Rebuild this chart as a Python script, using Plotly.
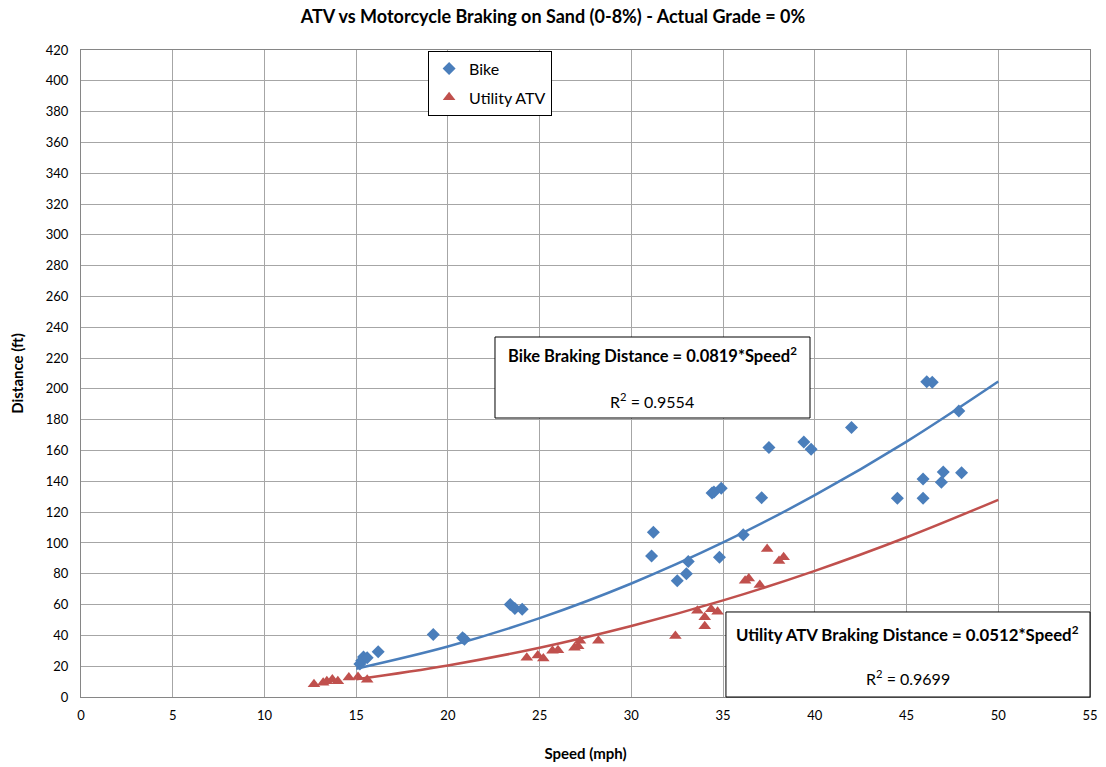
import plotly.graph_objects as go

# Bike (motorcycle) braking data: speed (mph), distance (ft)
bike_speed = [15.2, 15.3, 15.4, 15.6, 16.2, 19.2, 20.8, 20.9, 23.4, 23.65, 24.05,
              31.1, 31.2, 32.5, 33.0, 33.1, 34.4, 34.5, 34.8, 34.9, 36.1,
              37.1, 37.5, 39.4, 39.8, 42.0, 44.5, 45.9, 45.9, 46.1, 46.4,
              46.9, 47.0, 47.85, 48.0]
bike_dist = [21.5, 23.6, 26, 25.5, 29.4, 40.5, 38.5, 37.5, 60, 57.5, 57,
             91.5, 107, 75.5, 80, 88, 132.5, 133, 90.7, 135.5, 105.4,
             129.4, 162, 165.6, 160.8, 175, 129, 129, 141.5, 204.7, 204.3,
             139.4, 146, 185.7, 145.6]

# Utility ATV braking data
atv_speed = [12.7, 13.2, 13.4, 13.7, 14.0, 14.6, 15.1, 15.6,
             24.3, 24.9, 25.2, 25.7, 26.0, 26.9, 27.1, 27.2, 28.2,
             32.4, 33.6, 34.0, 34.0, 34.35, 34.7, 36.2, 36.4, 37.0, 37.4, 38.05, 38.3]
atv_dist = [8.2, 9.2, 10.3, 11.3, 10.2, 12.6, 13, 11.2,
            25.5, 27, 25, 30, 30.3, 32, 33, 36.5, 36.5,
            39.6, 56, 51.7, 46, 57, 55.4, 75.5, 77, 72.7, 96, 88.3, 90.7]

# Power trendlines as drawn
trend_speed = [15, 20, 25, 30, 35, 40, 45, 50]
bike_trend = [18.4, 32.8, 51.2, 73.7, 100.3, 131.0, 165.8, 204.8]
atv_trend = [11.5, 20.5, 32.0, 46.1, 62.7, 81.9, 103.7, 128.0]

x_ticks = list(range(0, 56, 5))
y_ticks = list(range(0, 421, 20))

BLUE = "#4A7EBB"
RED = "#C0504D"
FONT = "Lato"

fig = go.Figure()
fig.add_trace(go.Scatter(x=trend_speed, y=bike_trend, mode="lines", line=dict(color=BLUE, width=2.5, shape="spline"),
                         showlegend=False, hoverinfo="skip"))
fig.add_trace(go.Scatter(x=trend_speed, y=atv_trend, mode="lines", line=dict(color=RED, width=2.5, shape="spline"),
                         showlegend=False, hoverinfo="skip"))
fig.add_trace(go.Scatter(x=bike_speed, y=bike_dist, mode="markers", name="Bike", legendgroup="a",
                         marker=dict(symbol="diamond", size=10, color=BLUE)))
fig.add_trace(go.Scatter(x=atv_speed, y=atv_dist, mode="markers", name="Utility ATV", legendgroup="b",
                         marker=dict(symbol="triangle-up", size=11, color=RED)))

axis_common = dict(showgrid=True, gridcolor="#A6A6A6", gridwidth=1, showline=True, linecolor="#868686",
                   linewidth=1, mirror=True, zeroline=False, ticks="outside", tickcolor="rgba(0,0,0,0)",
                   automargin=False, tickfont=dict(family=FONT, size=13, color="#000"))

fig.update_layout(
    width=1106, height=767,
    margin=dict(l=81, r=16, t=50, b=70),
    paper_bgcolor="white", plot_bgcolor="white",
    font=dict(family=FONT, color="#000"),
    title=dict(text="<b>ATV vs Motorcycle Braking on Sand (0-8%) - Actual Grade = 0%</b>",
               x=0.5, xanchor="center", y=0.978, yanchor="middle",
               font=dict(family=FONT, size=18, color="#000")),
    xaxis=dict(range=[0, 55], tickvals=x_ticks, ticklen=6,
               title=dict(text="<b>Speed (mph)</b>", font=dict(family=FONT, size=15), standoff=26),
               **axis_common),
    yaxis=dict(range=[0, 420], tickvals=y_ticks, ticklen=9,
               title=dict(text="<b>Distance (ft)</b>", font=dict(family=FONT, size=15), standoff=18),
               **axis_common),
    legend=dict(x=0.344, y=0.999, xanchor="left", yanchor="top", bgcolor="white",
                bordercolor="#000", borderwidth=1, font=dict(family=FONT, size=16),
                tracegroupgap=5, itemwidth=30),
)

# Equation boxes
fig.add_shape(type="rect", xref="paper", yref="paper", x0=0.4103, x1=0.7225, y0=0.4312, y1=0.5564,
              fillcolor="white", line=dict(color="#000", width=1), layer="above")
fig.add_shape(type="rect", xref="paper", yref="paper", x0=0.6392, x1=1.0, y0=0.0, y1=0.1314,
              fillcolor="white", line=dict(color="#000", width=1), layer="above")

ann = dict(xref="paper", yref="paper", showarrow=False, xanchor="center", yanchor="middle")
fig.add_annotation(x=0.566, y=0.5286, text="<b>Bike Braking Distance = 0.0819*Speed<sup>2</sup></b>",
                   font=dict(family=FONT, size=16.5, color="#000"), **ann)
fig.add_annotation(x=0.566, y=0.4575, text="R<sup>2</sup> = 0.9554",
                   font=dict(family=FONT, size=16, color="#000"), **ann)
fig.add_annotation(x=0.8196, y=0.0989, text="<b>Utility ATV Braking Distance = 0.0512*Speed<sup>2</sup></b>",
                   font=dict(family=FONT, size=16.8, color="#000"), **ann)
fig.add_annotation(x=0.8196, y=0.0294, text="R<sup>2</sup> = 0.9699",
                   font=dict(family=FONT, size=16, color="#000"), **ann)

fig.write_html("out.html", config={"displayModeBar": False},
               post_script="document.body.style.margin='0';document.body.style.overflow='hidden';")
